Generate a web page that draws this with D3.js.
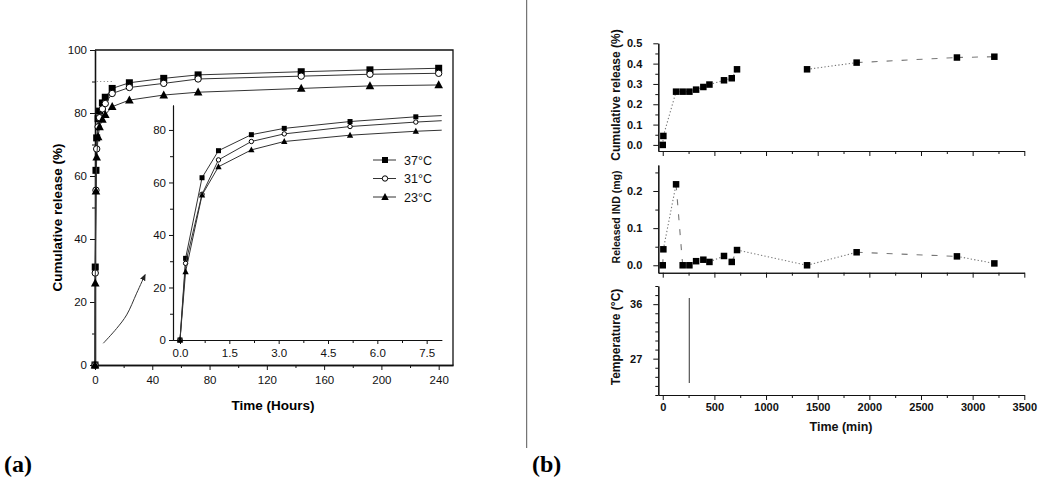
<!DOCTYPE html>
<html><head><meta charset="utf-8">
<script src="https://cdn.jsdelivr.net/npm/d3@7"></script>
<style>body{margin:0;background:#fff}svg{display:block}</style>
</head><body>
<svg id="c" width="1050" height="487"></svg>
<script>
// ---------- DATA: panel (a) ----------
const hours  = [0, 0.17, 0.67, 1.17, 2.17, 3.17, 5.17, 7.17, 12, 24, 48, 72, 144, 192, 240];
const rel37  = [0, 31.1, 61.8, 72.1, 78.2, 80.6, 83.2, 85.0, 87.8, 89.6, 91.0, 92.1, 93.1, 93.7, 94.2];
const rel31  = [0, 29.2, 55.5, 68.6, 75.6, 78.5, 81.3, 83.0, 86.2, 88.1, 89.4, 90.8, 91.7, 92.3, 92.6];
const rel23  = [0, 26.0, 55.2, 66.0, 72.4, 75.6, 78.0, 79.5, 82.0, 84.1, 85.7, 86.6, 87.8, 88.6, 88.9];
const seriesNames = ["37°C", "31°C", "23°C"];
const mainXTicks = [0, 40, 80, 120, 160, 200, 240];
const mainYTicks = [0, 20, 40, 60, 80, 100];
const insetXTicks = [0, 1.5, 3.0, 4.5, 6.0, 7.5];
const insetYTicks = [0, 20, 40, 60, 80];
const refLineHours = [1.2, 12.3];   // dotted guide at 90 %
const refLineValue = 90;
const arrowHours = [5.8, 15.1, 22.1, 29.1, 34.9];
const arrowValues = [6.9, 11.6, 15.9, 22.8, 28.6];

// ---------- DATA: panel (b) ----------
const tMin   = [0, 6, 129, 193, 258, 323, 393, 452, 593, 668, 719, 1397, 1877, 2848, 3210];
const cumRel = [0.0, 0.044, 0.262, 0.262, 0.262, 0.272, 0.285, 0.297, 0.318, 0.328, 0.372, 0.372, 0.405, 0.430, 0.434];
const relIND = [0.0, 0.043, 0.218, 0.0, 0.0, 0.011, 0.015, 0.009, 0.025, 0.009, 0.041, 0.0, 0.035, 0.024, 0.005];
const cumSeg = ["dot","dot","dot","dot","dot","dot","dot","dot","dot","dot","none","dot","dash","dash"];
const indSeg = ["dash","dot","dash","none","none","none","none","dot","none","dash","dot","dot","dash","dot"];
const tempTime = [257, 257];
const tempVal  = [23, 37];
const bXTicks = [0, 500, 1000, 1500, 2000, 2500, 3000, 3500];
const b1YTicks = [0, 0.1, 0.2, 0.3, 0.4, 0.5];
const b2YTicks = [0, 0.1, 0.2];
const b3YTicks = [27, 36];

// ---------- helpers ----------
const svg = d3.select("#c");
const SANS = "'Liberation Sans', Arial, sans-serif";

function styleAxis(g, fontSize, weight, lw) {
  g.select(".domain").attr("stroke", "#111").attr("stroke-width", lw || 1.3);
  g.selectAll(".tick line").attr("stroke", "#111").attr("stroke-width", 1);
  g.selectAll(".tick text").attr("font-family", SANS).attr("font-size", fontSize)
    .attr("font-weight", weight).attr("fill", "#111");
  g.attr("font-family", null).attr("font-size", null);
}
function minor(values, step) {
  const out = [];
  for (let i = 0; i < values.length - 1; i++) out.push(values[i] + step);
  return out;
}
function marker(g, shape, x, y, s) {
  if (shape === "square") {
    g.append("rect").attr("x", x - s/2).attr("y", y - s/2).attr("width", s).attr("height", s).attr("fill", "#000");
  } else if (shape === "circle") {
    g.append("circle").attr("cx", x).attr("cy", y).attr("r", s/2 - 0.3).attr("fill", "#fff")
      .attr("stroke", "#000").attr("stroke-width", 1);
  } else {
    const h = s * 1.0, w = s * 1.15;
    g.append("path").attr("d", `M${x},${y - h*0.62}L${x + w/2},${y + h*0.45}L${x - w/2},${y + h*0.45}Z`).attr("fill", "#000");
  }
}

// ================= PANEL (a) =================
const xA = d3.scaleLinear([0, 250], [95, 453]);
const yA = d3.scaleLinear([0, 100], [365, 50]);

const gA = svg.append("g");
gA.append("path").attr("d", `M${xA(0)},${yA(100)}H${xA(250)}V${yA(0)}`).attr("fill", "none")
  .attr("stroke", "#111").attr("stroke-width", 1.3);

let ax = gA.append("g").attr("transform", `translate(0,${yA(0)})`)
  .call(d3.axisBottom(xA).tickValues(mainXTicks).tickSize(5).tickSizeOuter(0).tickPadding(6).tickFormat(d3.format("d")));
styleAxis(ax, 11.5, "normal");
ax = gA.append("g").attr("transform", `translate(0,${yA(0)})`)
  .call(d3.axisBottom(xA).tickValues(minor(mainXTicks, 20)).tickSize(3).tickSizeOuter(0).tickFormat(""));
styleAxis(ax, 11, "normal");
ax = gA.append("g").attr("transform", `translate(${xA(0)},0)`)
  .call(d3.axisLeft(yA).tickValues(mainYTicks).tickSize(5).tickSizeOuter(0).tickPadding(3).tickFormat(d3.format("d")));
styleAxis(ax, 11.5, "normal");
ax = gA.append("g").attr("transform", `translate(${xA(0)},0)`)
  .call(d3.axisLeft(yA).tickValues(minor(mainYTicks, 10)).tickSize(3).tickSizeOuter(0).tickFormat(""));
styleAxis(ax, 11, "normal");

gA.append("text").attr("transform", `translate(61.5,${(yA(0)+yA(100))/2 + 10}) rotate(-90)`)
  .attr("text-anchor", "middle").attr("font-family", SANS).attr("font-weight", "bold")
  .attr("font-size", 13.5).text("Cumulative release (%)");
gA.append("text").attr("x", 273).attr("y", 410).attr("text-anchor", "middle")
  .attr("font-family", SANS).attr("font-weight", "bold").attr("font-size", 13.5).text("Time (Hours)");

gA.append("line").attr("x1", xA(refLineHours[0])).attr("x2", xA(refLineHours[1]))
  .attr("y1", yA(refLineValue)).attr("y2", yA(refLineValue))
  .attr("stroke", "#777").attr("stroke-width", 1).attr("stroke-dasharray", "1,2.5");

svg.append("defs").append("marker").attr("id", "ah").attr("viewBox", "0 0 10 10").attr("refX", 8).attr("refY", 5)
  .attr("markerWidth", 7).attr("markerHeight", 7).attr("orient", "auto")
  .append("path").attr("d", "M0,1L10,5L0,9Z").attr("fill", "#222");
gA.append("path").datum(arrowHours.map((h, i) => [h, arrowValues[i]]))
  .attr("d", d3.line().x(d => xA(d[0])).y(d => yA(d[1])).curve(d3.curveCatmullRom))
  .attr("fill", "none").attr("stroke", "#333").attr("stroke-width", 1).attr("marker-end", "url(#ah)");

const allSeries = [rel37, rel31, rel23];
const shapes = ["square", "circle", "triangle"];
const lineA = d3.line().x(d => xA(d[0])).y(d => yA(d[1]));
allSeries.forEach((vals, si) => {
  const pts = hours.map((h, i) => [h, vals[i]]);
  gA.append("path").datum(pts).attr("d", lineA).attr("fill", "none").attr("stroke", "#333").attr("stroke-width", 1);
  const gm = gA.append("g");
  pts.forEach(p => marker(gm, shapes[si], xA(p[0]), yA(p[1]), si === 2 ? 7.5 : 7));
});

// ---------- inset ----------
const xI = d3.scaleLinear([-0.213, 7.957], [173, 441.7]);
const yI = d3.scaleLinear([0, 89.5], [340, 105]);
const gI = svg.append("g");
svg.select("defs").append("clipPath").attr("id", "clipI").append("rect")
  .attr("x", 173).attr("y", 95).attr("width", 441.7 - 173).attr("height", 250);

ax = gI.append("g").attr("transform", `translate(0,${yI(0)})`)
  .call(d3.axisBottom(xI).tickValues(insetXTicks).tickSize(4).tickSizeOuter(0).tickPadding(5).tickFormat(d3.format(".1f")));
styleAxis(ax, 11.5, "normal", 1.1);
ax = gI.append("g").attr("transform", `translate(0,${yI(0)})`)
  .call(d3.axisBottom(xI).tickValues(minor(insetXTicks, 0.75)).tickSize(3).tickSizeOuter(0).tickFormat(""));
styleAxis(ax, 11, "normal", 1.1);
ax = gI.append("g").attr("transform", `translate(${xI.range()[0]},0)`)
  .call(d3.axisLeft(yI).tickValues(insetYTicks).tickSize(4).tickSizeOuter(0).tickPadding(3).tickFormat(d3.format("d")));
styleAxis(ax, 11.5, "normal", 1.1);
ax = gI.append("g").attr("transform", `translate(${xI.range()[0]},0)`)
  .call(d3.axisLeft(yI).tickValues(minor(insetYTicks, 10)).tickSize(3).tickSizeOuter(0).tickFormat(""));
styleAxis(ax, 11, "normal", 1.1);

const lineI = d3.line().x(d => xI(d[0])).y(d => yI(d[1]));
const gIc = gI.append("g").attr("clip-path", "url(#clipI)");
allSeries.forEach((vals, si) => {
  const pts = hours.map((h, i) => [h, vals[i]]);
  gIc.append("path").datum(pts).attr("d", lineI).attr("fill", "none").attr("stroke", "#333").attr("stroke-width", 1);
  const gm = gIc.append("g");
  pts.filter(p => p[0] <= 8).forEach(p => marker(gm, shapes[si], xI(p[0]), yI(p[1]), si === 2 ? 5.5 : 5));
});

const legY = [160, 178.5, 197];
seriesNames.forEach((nm, i) => {
  const gl = gI.append("g");
  gl.append("line").attr("x1", 373).attr("x2", 396).attr("y1", legY[i]).attr("y2", legY[i]).attr("stroke", "#333").attr("stroke-width", 1);
  marker(gl, shapes[i], 385, legY[i], i === 2 ? 6.5 : 6);
  gl.append("text").attr("x", 404).attr("y", legY[i] + 4.5).attr("font-family", SANS).attr("font-size", 12.5)
    .attr("fill", "#111").text(nm);
});

// ================= separator & panel labels =================
svg.append("line").attr("x1", 526.7).attr("x2", 526.7).attr("y1", 0).attr("y2", 448)
  .attr("stroke", "#555").attr("stroke-width", 1);
const SERIF = "'Liberation Serif', 'Times New Roman', serif";
svg.append("text").attr("x", 4).attr("y", 472).attr("font-family", SERIF).attr("font-weight", "bold")
  .attr("font-size", 24).text("(a)");
svg.append("text").attr("x", 532).attr("y", 472).attr("font-family", SERIF).attr("font-weight", "bold")
  .attr("font-size", 24).text("(b)");

// ================= PANEL (b) =================
const xB = d3.scaleLinear([-43, 3500], [658.3, 1024.3]);
const yB1 = d3.scaleLinear([-0.03, 0.5], [151, 43.3]);
const yB2 = d3.scaleLinear([-0.02, 0.27], [272.7, 165]);
const yB3 = d3.scaleLinear([21, 39], [395, 286]);
const gB = svg.append("g");

function subplot(yS, majorY, minorStep, fmt, showX) {
  const g = gB.append("g");
  const y0 = yS.range()[0];
  let a = g.append("g").attr("transform", `translate(0,${y0})`)
    .call(d3.axisBottom(xB).tickValues(bXTicks).tickSize(5).tickSizeOuter(0).tickPadding(3)
      .tickFormat(showX ? d3.format("d") : ""));
  styleAxis(a, 11, "bold", 1.1);
  a = g.append("g").attr("transform", `translate(0,${y0})`)
    .call(d3.axisBottom(xB).tickValues(minor(bXTicks, 250)).tickSize(3).tickSizeOuter(0).tickFormat(""));
  styleAxis(a, 10, "bold", 1.1);
  a = g.append("g").attr("transform", `translate(${xB.range()[0]},0)`)
    .call(d3.axisLeft(yS).tickValues(majorY).tickSize(5).tickSizeOuter(0).tickPadding(11).tickFormat(fmt));
  styleAxis(a, 11, "bold", 1.1);
  const [lo, hi] = yS.domain();
  const mins = d3.range(Math.ceil(lo / minorStep - 1e-9) * minorStep, hi + 1e-9, minorStep)
    .filter(v => !majorY.some(m => Math.abs(m - v) < 1e-9));
  a = g.append("g").attr("transform", `translate(${xB.range()[0]},0)`)
    .call(d3.axisLeft(yS).tickValues(mins).tickSize(3).tickSizeOuter(0).tickFormat(""));
  styleAxis(a, 10, "bold", 1.1);
  return g;
}
function segLines(g, yS, xs, ys, styles) {
  styles.forEach((st, i) => {
    if (st === "none") return;
    g.append("line").attr("x1", xB(xs[i])).attr("y1", yS(ys[i])).attr("x2", xB(xs[i+1])).attr("y2", yS(ys[i+1]))
      .attr("stroke", "#777").attr("stroke-width", 1.1)
      .attr("stroke-dasharray", st === "dot" ? "1.3,2.2" : "6,9");
  });
}

const g1 = subplot(yB1, b1YTicks, 0.05, d3.format(".1f"), false);
segLines(g1, yB1, tMin, cumRel, cumSeg);
tMin.forEach((t, i) => marker(g1, "square", xB(t), yB1(cumRel[i]), 6.5));

const g2 = subplot(yB2, b2YTicks, 0.05, d3.format(".1f"), false);
segLines(g2, yB2, tMin, relIND, indSeg);
tMin.forEach((t, i) => marker(g2, "square", xB(t), yB2(relIND[i]), 6.5));

const g3 = subplot(yB3, b3YTicks, 1.5, d3.format("d"), true);
g3.append("path").datum(tempTime.map((t, i) => [t, tempVal[i]]))
  .attr("d", d3.line().x(d => xB(d[0])).y(d => yB3(d[1])))
  .attr("stroke", "#444").attr("stroke-width", 1.1).attr("fill", "none");

function vTitle(txt, cx, cy, fs) {
  gB.append("text").attr("transform", `translate(${cx + fs * 0.36},${cy}) rotate(-90)`)
    .attr("text-anchor", "middle").attr("font-family", SANS).attr("font-weight", "bold")
    .attr("font-size", fs).attr("fill", "#111").text(txt);
}
vTitle("Cumulative release (%)", 616, 95, 12);
vTitle("Released IND (mg)", 616, 217, 10.5);
vTitle("Temperature (°C)", 616, 337, 12);
gB.append("text").attr("x", 841).attr("y", 431).attr("text-anchor", "middle").attr("font-family", SANS)
  .attr("font-weight", "bold").attr("font-size", 12.5).attr("fill", "#111").text("Time (min)");
</script></body></html>
